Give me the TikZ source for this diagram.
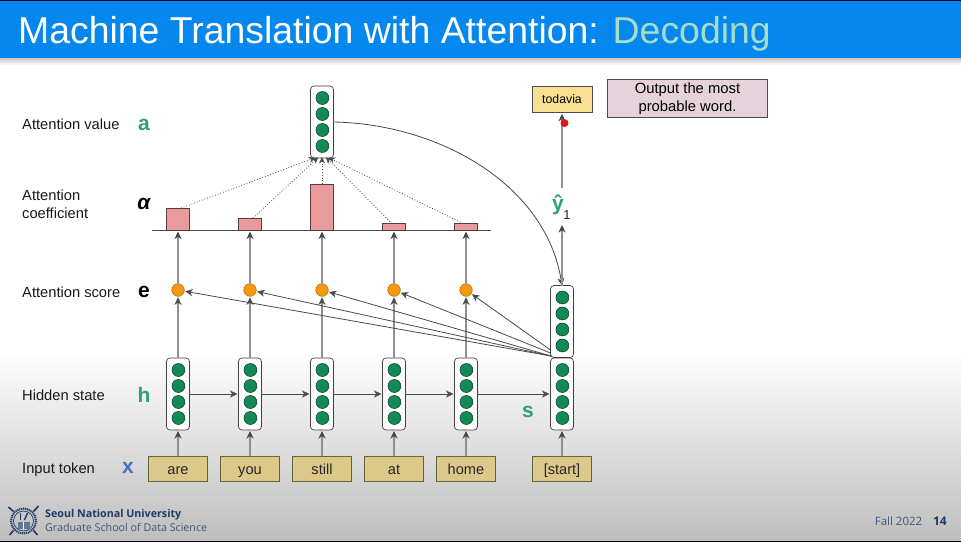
\documentclass[tikz,border=0pt]{standalone}
\usepackage{fontspec}
\setmainfont{Liberation Sans}
\newfontfamily\notof{Open Sans}
\usetikzlibrary{arrows.meta,shadings}
\definecolor{hdr}{HTML}{0488F0}
\definecolor{deco}{HTML}{A6DCC8}
\definecolor{grn}{HTML}{118A56}
\definecolor{lblgrn}{HTML}{2EA36F}
\definecolor{xblue}{HTML}{4472C4}
\definecolor{barc}{HTML}{E89A9C}
\definecolor{barl}{HTML}{5E3A3A}
\definecolor{orng}{HTML}{F59A0E}
\definecolor{tok}{HTML}{DCC98A}
\definecolor{tokl}{HTML}{6A6140}
\definecolor{todc}{HTML}{F8DF92}
\definecolor{pinkc}{HTML}{E6D2DA}
\definecolor{navy}{HTML}{1F3A68}
\definecolor{arr}{HTML}{4A4A4A}
\tikzset{
  vecbox/.style={draw=black!75,line width=.7pt,rounded corners=3.5pt,fill=white,minimum width=23pt,minimum height=72pt,inner sep=0pt,outer sep=0pt},
  neuron/.style={circle,draw=black!60!grn,line width=.5pt,fill=grn,minimum size=13pt,inner sep=0pt,outer sep=0pt},
  score/.style={circle,draw=black!30!orng,line width=.5pt,fill=orng,minimum size=12.6pt,inner sep=0pt,outer sep=0pt},
  token/.style={draw=tokl,line width=.8pt,fill=tok,minimum width=59.5pt,minimum height=25.5pt,inner sep=0pt,outer sep=0pt,text height=12pt,text depth=2pt,font=\fontsize{14.6}{16}\selectfont,text=black!85},
  bar/.style={draw=barl,line width=.8pt,fill=barc,minimum width=23.5pt,inner sep=0pt,outer sep=0pt,anchor=south},
  lbl/.style={anchor=base west,inner sep=0pt,font=\fontsize{14.7}{18}\selectfont,align=left,text=black!90},
  sym/.style={inner sep=0pt,font=\fontsize{21}{22}\selectfont\bfseries},
  flow/.style={draw=arr!62,line width=1.1pt,shorten >=1pt,-{Stealth[length=7.5pt,width=7pt,inset=2.2pt,color=arr]}},
  thin flow/.style={draw=arr,line width=.8pt,shorten >=1pt,-{Stealth[length=7.5pt,width=7pt,inset=2.2pt]}},
  dots/.style={draw=arr,line width=.8pt,dotted,shorten >=-1pt,-{Stealth[length=6.5pt,width=6pt,inset=2pt]}},
}
\newcommand{\vecnode}[3]{%
  \node[vecbox] (#1) at (#2,#3) {};
  \node[neuron] at (#2+.4,#3-24) {};
  \node[neuron] at (#2+.4,#3-8) {};
  \node[neuron] at (#2+.4,#3+8) {};
  \node[neuron] at (#2+.4,#3+24) {};
}
\begin{document}
\begin{tikzpicture}[x=1pt,y=-1pt]
\useasboundingbox (0,0) rectangle (961,542);
% background
\fill[white] (0,0) rectangle (961,542);
\shade[top color=white,bottom color=white!74!black!98] (0,350) rectangle (961,541);
\shade[top color=black!22,bottom color=white] (0,58) rectangle (961,65);
\fill[hdr] (0,1) rectangle (961,58);
\fill[black!85!blue] (0,0) rectangle (961,1);
\fill[black!85!blue] (0,541) rectangle (961,542);
\node[anchor=base west,inner sep=0pt,text=white,font=\fontsize{37.4}{40}\selectfont] (title) at (18,43.5) {Machine Translation with Attention: \textcolor{deco}{Decoding}};
% row labels
\node[lbl] (l1) at (22,129.2) {Attention value};
\node[lbl,anchor=west] (l2) at (22,204.3) {Attention\\coefficient};
\node[lbl] (l3) at (22,297.4) {Attention score};
\node[lbl] (l4) at (22,400.2) {Hidden state};
\node[lbl] (l5) at (22,473.2) {Input token};
\node[sym,text=lblgrn] (sa) at (144,124.5) {a};
\node[sym,text=black] (salpha) at (144,204) {\itshape α};
\node[sym,text=black] (se) at (144,292) {e};
\node[sym,text=lblgrn] (sh) at (144,395) {h};
\node[sym,text=xblue] (sx) at (128,468) {x};
\node[sym,text=lblgrn] (ss) at (528,412) {s};
% tokens
\node[token] (t1) at (178,469) {are};
\node[token] (t2) at (250,469) {you};
\node[token] (t3) at (322,469) {still};
\node[token] (t4) at (394,469) {at};
\node[token] (t5) at (466,469) {home};
\node[token] (t6) at (562,469) {[start]};
% hidden
\vecnode{h1}{178}{394}
\vecnode{h2}{250}{394}
\vecnode{h3}{322}{394}
\vecnode{h4}{394}{394}
\vecnode{h5}{466}{394}
\vecnode{h6}{562}{394}
\vecnode{d1}{562}{321.5}
\vecnode{av}{322}{122}
% scores
\node[score] (e1) at (178,290) {};
\node[score] (e2) at (250,290) {};
\node[score] (e3) at (322,290) {};
\node[score] (e4) at (394,290) {};
\node[score] (e5) at (466,290) {};
% axis + bars
\coordinate (axl) at (152,230.5);
\coordinate (axr) at (491,230.5);
\draw[draw=arr,line width=1pt] (axl) -- (axr);
\node[bar,minimum height=22.5pt] (b1) at (178,230.5) {};
\node[bar,minimum height=12.5pt] (b2) at (250,230.5) {};
\node[bar,minimum height=46.5pt] (b3) at (322,230.5) {};
\node[bar,minimum height=7pt] (b4) at (394,230.5) {};
\node[bar,minimum height=7pt] (b5) at (466,230.5) {};
\coordinate (a1) at (178,231.5);
\coordinate (a2) at (250,231.5);
\coordinate (a3) at (322,231.5);
\coordinate (a4) at (394,231.5);
\coordinate (a5) at (466,231.5);
% connectors
\foreach \i in {1,...,5}{
  \draw[flow] (t\i) -- (h\i);
  \draw[flow] (h\i) -- (e\i);
  \draw[flow,shorten >=0pt] (e\i) -- (a\i);
}
\draw[flow] (t6) -- (h6);
\draw[thin flow] (h1) -- (h2);
\draw[thin flow] (h2) -- (h3);
\draw[thin flow] (h3) -- (h4);
\draw[thin flow] (h4) -- (h5);
\draw[thin flow] (h5) -- (h6);
\coordinate (ds1) at (551,356);
\coordinate (ds4) at (550.5,353);
\coordinate (ds5) at (550.5,350);
\foreach \i in {1,2,3}{ \draw[thin flow] (ds1) -- (e\i); }
\draw[thin flow] (ds4) -- (e4);
\draw[thin flow] (ds5) -- (e5);
% dotted attention
\draw[dots] (b1.north) ++(3,0) -- ([xshift=4pt]av.south west);
\draw[dots] (b2.north) ++(3,0) -- ([xshift=7pt]av.south west);
\draw[dots] (b3.north) -- (av.south);
\draw[dots] (b4.north) ++(-2,0) -- ([xshift=-7pt]av.south east);
\draw[dots] (b5.north) ++(-3,0) -- ([xshift=-4pt]av.south east);
% curve from attention value to decoder
\draw[thin flow,shorten >=0pt] (av.east) .. controls (440,124) and (546,185) .. (d1.north);
% output
\node[draw=black!70,line width=.8pt,fill=todc,minimum width=60pt,minimum height=26.5pt,inner sep=0pt,outer sep=0pt,font=\fontsize{12.3}{14}\selectfont] (out) at (562,99.5) {todavia};
\node[draw=black!70,line width=.8pt,fill=pinkc,minimum width=159.5pt,minimum height=37.5pt,inner sep=0pt,outer sep=0pt,align=center,font=\fontsize{14.8}{18}\selectfont] (note) at (687.5,98.5) {Output the most\\probable word.};
\node[inner sep=0pt,text=lblgrn,font=\fontsize{21}{21}\selectfont\bfseries] (yh) at (558,205) {ŷ};
\node[inner sep=0pt,font=\fontsize{13}{14}\selectfont,text=black!85] (ysub) at (567,215) {1};
\coordinate (yb) at (562,224);
\coordinate (yt) at (562,188);
\draw[flow] (d1.north) -- (yb);
\draw[flow] (yt) -- (out);
\fill[red!85!black!90] (564.5,123) circle (4);
% footer seal
\begin{scope}[shift={(23.5,521)}]
  \draw[navy,line width=2pt,dash pattern=on 1.2pt off .8pt] (0,0) circle (12.5);
  \draw[navy,line width=.7pt] (0,0) circle (10);
  \fill[navy!70] (-6,1) rectangle (6,7.5);
  \draw[white,line width=.6pt] (0,1) -- (0,7.5);
  \draw[navy,line width=1.4pt] (-3,-8) -- (-3,-1);
  \draw[navy,line width=1.4pt] (4,-8) -- (1,-1);
  \draw[navy,line width=1.6pt] (-15,-14) -- (-10,-9.5);
  \draw[navy,line width=1.6pt] (15,-15) -- (10,-9.5);
  \draw[navy,line width=1.6pt] (-14,14) -- (-10,9.5);
  \draw[navy,line width=1.6pt] (14,14) -- (10,9.5);
\end{scope}
\node[anchor=base west,inner sep=0pt,text=navy,font=\notof\fontsize{10.7}{13}\selectfont\bfseries] (snu) at (45,517.5) {Seoul National University};
\node[anchor=base west,inner sep=0pt,text=navy!75!black!80,font=\notof\fontsize{10.7}{13}\selectfont] (gsds) at (45,531.5) {Graduate School of Data Science};
\node[anchor=base east,inner sep=0pt,text=navy!85,font=\notof\fontsize{11.5}{13}\selectfont] (fall) at (922.5,525) {Fall 2022};
\node[anchor=base east,inner sep=0pt,text=navy,font=\notof\fontsize{12}{13}\selectfont\bfseries] (pg) at (947,525) {14};
\end{tikzpicture}
\end{document}
